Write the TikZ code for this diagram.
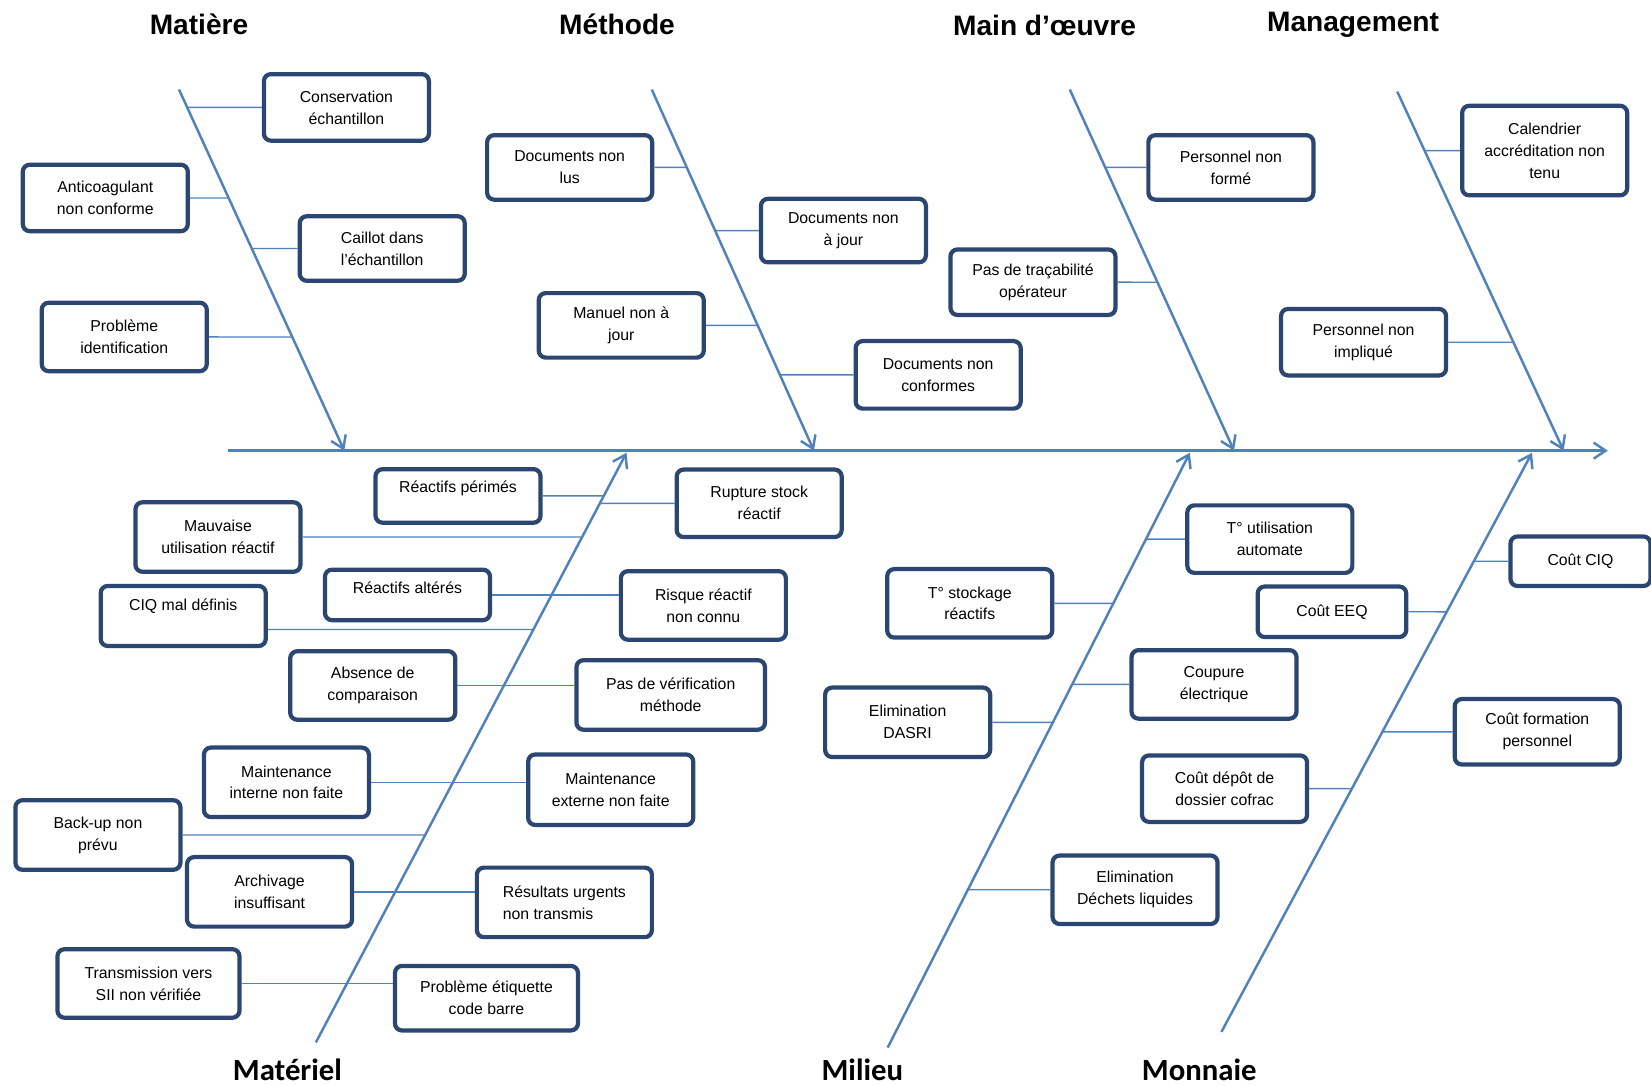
\documentclass[tikz,border=0pt]{standalone}
\usepackage{fontspec}
\setmainfont{Liberation Sans}
\newfontfamily\calibrifont{Carlito}
\usetikzlibrary{arrows.meta}
\definecolor{fishblue}{HTML}{4F81BD}
\definecolor{boxblue}{HTML}{2B4670}
\begin{document}
\begin{tikzpicture}[x=0.02106cm,y=-0.02106cm]
        \tikzstyle{block} = [rectangle, rounded corners=4pt, draw=boxblue, line width=2.4pt, fill=white, text=black, align=center, font=\fontsize{9}{12.5}\selectfont, minimum width=3.3cm, minimum height=1.33cm, inner sep=2pt]
        \tikzstyle{bone} = [-{Straight Barb[length=2.4mm,width=3.2mm]}, draw=fishblue, line width=1.4pt]
        \tikzstyle{line} = [draw=fishblue, line width=0.8pt]
        \tikzstyle{cat} = [font=\bfseries\fontsize{16}{16}\selectfont]
        \tikzstyle{catb} = [font=\calibrifont\bfseries\fontsize{17.5}{17.5}\selectfont]
        \useasboundingbox (0,0) rectangle (1568,1031);
        % spine
        \coordinate (tail) at (217,428);
        \coordinate (head) at (1527,428);
        \draw[bone] (tail) -- (head);
        % bones, top row
        \coordinate (mat0) at (170,85);   \coordinate (mat1) at (327,428);
        \coordinate (met0) at (619,85);   \coordinate (met1) at (773,428);
        \coordinate (mo0) at (1016,85);   \coordinate (mo1) at (1172,428);
        \coordinate (mg0) at (1327,87);   \coordinate (mg1) at (1485,428);
        % bones, bottom row
        \coordinate (mt0) at (300,990);   \coordinate (mt1) at (595,430);
        \coordinate (mi0) at (843,995);   \coordinate (mi1) at (1130,430);
        \coordinate (mn0) at (1160,980);  \coordinate (mn1) at (1455,430);
        \draw[bone] (mat0) -- (mat1);
        \draw[bone] (met0) -- (met1);
        \draw[bone] (mo0) -- (mo1);
        \draw[bone] (mg0) -- (mg1);
        \draw[bone] (mt0) -- (mt1);
        \draw[bone] (mi0) -- (mi1);
        \draw[bone] (mn0) -- (mn1);
        % categories
        \node[cat] (tmat) at (189,23) {Matière};
        \node[cat] (tmet) at (586,23) {Méthode};
        \node[cat] (tmo) at (992,24) {Main d’œuvre};
        \node[cat] (tmg) at (1285,24) {Management};
        \node[catb] (tmt) at (273,1016) {Matériel};
        \node[catb] (tmi) at (819,1016) {Milieu};
        \node[catb] (tmn) at (1139,1016) {Monnaie};
        % Matiere
        \node[block] (cons) at (329,102) {Conservation\\échantillon};
        \node[block] (anti) at (100,188) {Anticoagulant\\non conforme};
        \node[block,minimum height=1.29cm] (cail) at (363,236) {Caillot dans\\l'échantillon};
        \node[block,minimum height=1.37cm] (prob) at (118,320) {Problème\\identification};
        % Methode
        \node[block,minimum height=1.29cm] (dnl) at (541,159) {Documents non\\lus};
        \node[block,minimum height=1.27cm] (dnj) at (801,219) {Documents non\\à jour};
        \node[block,minimum height=1.29cm] (man) at (590,309) {Manuel non à\\jour};
        \node[block,minimum height=1.35cm] (dnc) at (891,356) {Documents non\\conformes};
        % Main d'oeuvre
        \node[block,minimum height=1.29cm] (pnf) at (1169,159) {Personnel non\\formé};
        \node[block,minimum height=1.31cm] (pdt) at (981,268) {Pas de traçabilité\\opérateur};
        % Management
        \node[block,minimum height=1.79cm] (cal) at (1467,143) {Calendrier\\accréditation non\\tenu};
        \node[block] (pni) at (1295,325) {Personnel non\\impliqué};
        % Materiel
        \node[block,minimum height=1.07cm] (per) at (435,471) {Réactifs périmés\\[-2pt]~};
        \node[block,minimum height=1.35cm] (rup) at (721,478) {Rupture stock\\réactif};
        \node[block,minimum height=1.39cm] (mau) at (207,510) {Mauvaise\\utilisation réactif};
        \node[block,minimum height=1.2cm] (ciq) at (174,585) {CIQ mal définis\\~};
        \node[block,minimum height=1.01cm] (alt) at (387,565) {Réactifs altérés\\[-4pt]~};
        \node[block,minimum height=1.37cm] (rrn) at (668,575) {Risque réactif\\non connu};
        \node[block,minimum height=1.37cm] (abs) at (354,651) {Absence de\\comparaison};
        \node[block,minimum width=3.77cm,minimum height=1.39cm] (pdv) at (637,660) {Pas de vérification\\méthode};
        \node[block,minimum height=1.39cm] (min) at (272,743) {Maintenance\\interne non faite};
        \node[block,minimum height=1.41cm] (mex) at (580,750) {Maintenance\\externe non faite};
        \node[block,minimum height=1.39cm] (bck) at (93,793) {Back-up non\\prévu};
        \node[block,minimum height=1.39cm] (arc) at (256,847) {Archivage\\insuffisant};
        \node[block,minimum width=3.5cm,minimum height=1.39cm,align=left] (rut) at (536,857) {Résultats urgents\\non transmis};
        \node[block,minimum width=3.64cm,minimum height=1.37cm] (trs) at (141,934) {Transmission vers\\SII non vérifiée};
        \node[block,minimum width=3.66cm,minimum height=1.29cm] (pec) at (462,948) {Problème étiquette\\code barre};
        % Milieu
        \node[block,minimum height=1.37cm] (tsr) at (921,573) {T° stockage\\réactifs};
        \node[block,minimum height=1.35cm] (tua) at (1206,512) {T° utilisation\\automate};
        \node[block,minimum height=1.37cm] (cou) at (1153,650) {Coupure\\électrique};
        \node[block,minimum height=1.39cm] (eda) at (862,686) {Elimination\\DASRI};
        \node[block,minimum height=1.37cm] (edl) at (1078,845) {Elimination\\Déchets liquides};
        % Monnaie
        \node[block,minimum width=2.8cm,minimum height=0.99cm] (cciq) at (1501,533) {Coût CIQ};
        \node[block,minimum width=2.97cm,minimum height=1.01cm] (ceeq) at (1265,581) {Coût EEQ};
        \node[block,minimum height=1.31cm] (cfp) at (1460,695) {Coût formation\\personnel};
        \node[block,minimum height=1.33cm] (cdd) at (1163,749) {Coût dépôt de\\dossier cofrac};
        % branches
        \draw[line] (cons.west) -- (intersection of mat0--mat1 and cons.west--cons.east);
        \draw[line] (anti.east) -- (intersection of mat0--mat1 and anti.west--anti.east);
        \draw[line] (cail.west) -- (intersection of mat0--mat1 and cail.west--cail.east);
        \draw[line] (prob.east) -- (intersection of mat0--mat1 and prob.west--prob.east);
        \draw[line] (dnl.east) -- (intersection of met0--met1 and dnl.west--dnl.east);
        \draw[line] (dnj.west) -- (intersection of met0--met1 and dnj.west--dnj.east);
        \draw[line] (man.east) -- (intersection of met0--met1 and man.west--man.east);
        \draw[line] (dnc.west) -- (intersection of met0--met1 and dnc.west--dnc.east);
        \draw[line] (pnf.west) -- (intersection of mo0--mo1 and pnf.west--pnf.east);
        \draw[line] (pdt.east) -- (intersection of mo0--mo1 and pdt.west--pdt.east);
        \draw[line] (cal.west) -- (intersection of mg0--mg1 and cal.west--cal.east);
        \draw[line] (pni.east) -- (intersection of mg0--mg1 and pni.west--pni.east);
        \draw[line] (per.east) -- (intersection of mt0--mt1 and per.west--per.east);
        \draw[line] (rup.west) -- (intersection of mt0--mt1 and rup.west--rup.east);
        \draw[line] (mau.east) -- (intersection of mt0--mt1 and mau.west--mau.east);
        \coordinate (ciqa) at ([yshift=-0.27cm]ciq.west);
        \coordinate (ciqb) at ([yshift=-0.27cm]ciq.east);
        \draw[line] (ciqb) -- (intersection of mt0--mt1 and ciqa--ciqb);
        \draw[line] (alt.east) -- (alt.east -| rrn.west);
        \draw[line] (abs.east) -- (abs.east -| pdv.west);
        \draw[line] (min.east) -- (min.east -| mex.west);
        \draw[line] (bck.east) -- (intersection of mt0--mt1 and bck.west--bck.east);
        \draw[line] (arc.east) -- (arc.east -| rut.west);
        \draw[line] (trs.east) -- (trs.east -| pec.west);
        \draw[line] (tsr.east) -- (intersection of mi0--mi1 and tsr.west--tsr.east);
        \draw[line] (tua.west) -- (intersection of mi0--mi1 and tua.west--tua.east);
        \draw[line] (cou.west) -- (intersection of mi0--mi1 and cou.west--cou.east);
        \draw[line] (eda.east) -- (intersection of mi0--mi1 and eda.west--eda.east);
        \draw[line] (edl.west) -- (intersection of mi0--mi1 and edl.west--edl.east);
        \draw[line] (cciq.west) -- (intersection of mn0--mn1 and cciq.west--cciq.east);
        \draw[line] (ceeq.east) -- (intersection of mn0--mn1 and ceeq.west--ceeq.east);
        \draw[line] (cfp.west) -- (intersection of mn0--mn1 and cfp.west--cfp.east);
        \draw[line] (cdd.east) -- (intersection of mn0--mn1 and cdd.west--cdd.east);
\end{tikzpicture}
\end{document}
